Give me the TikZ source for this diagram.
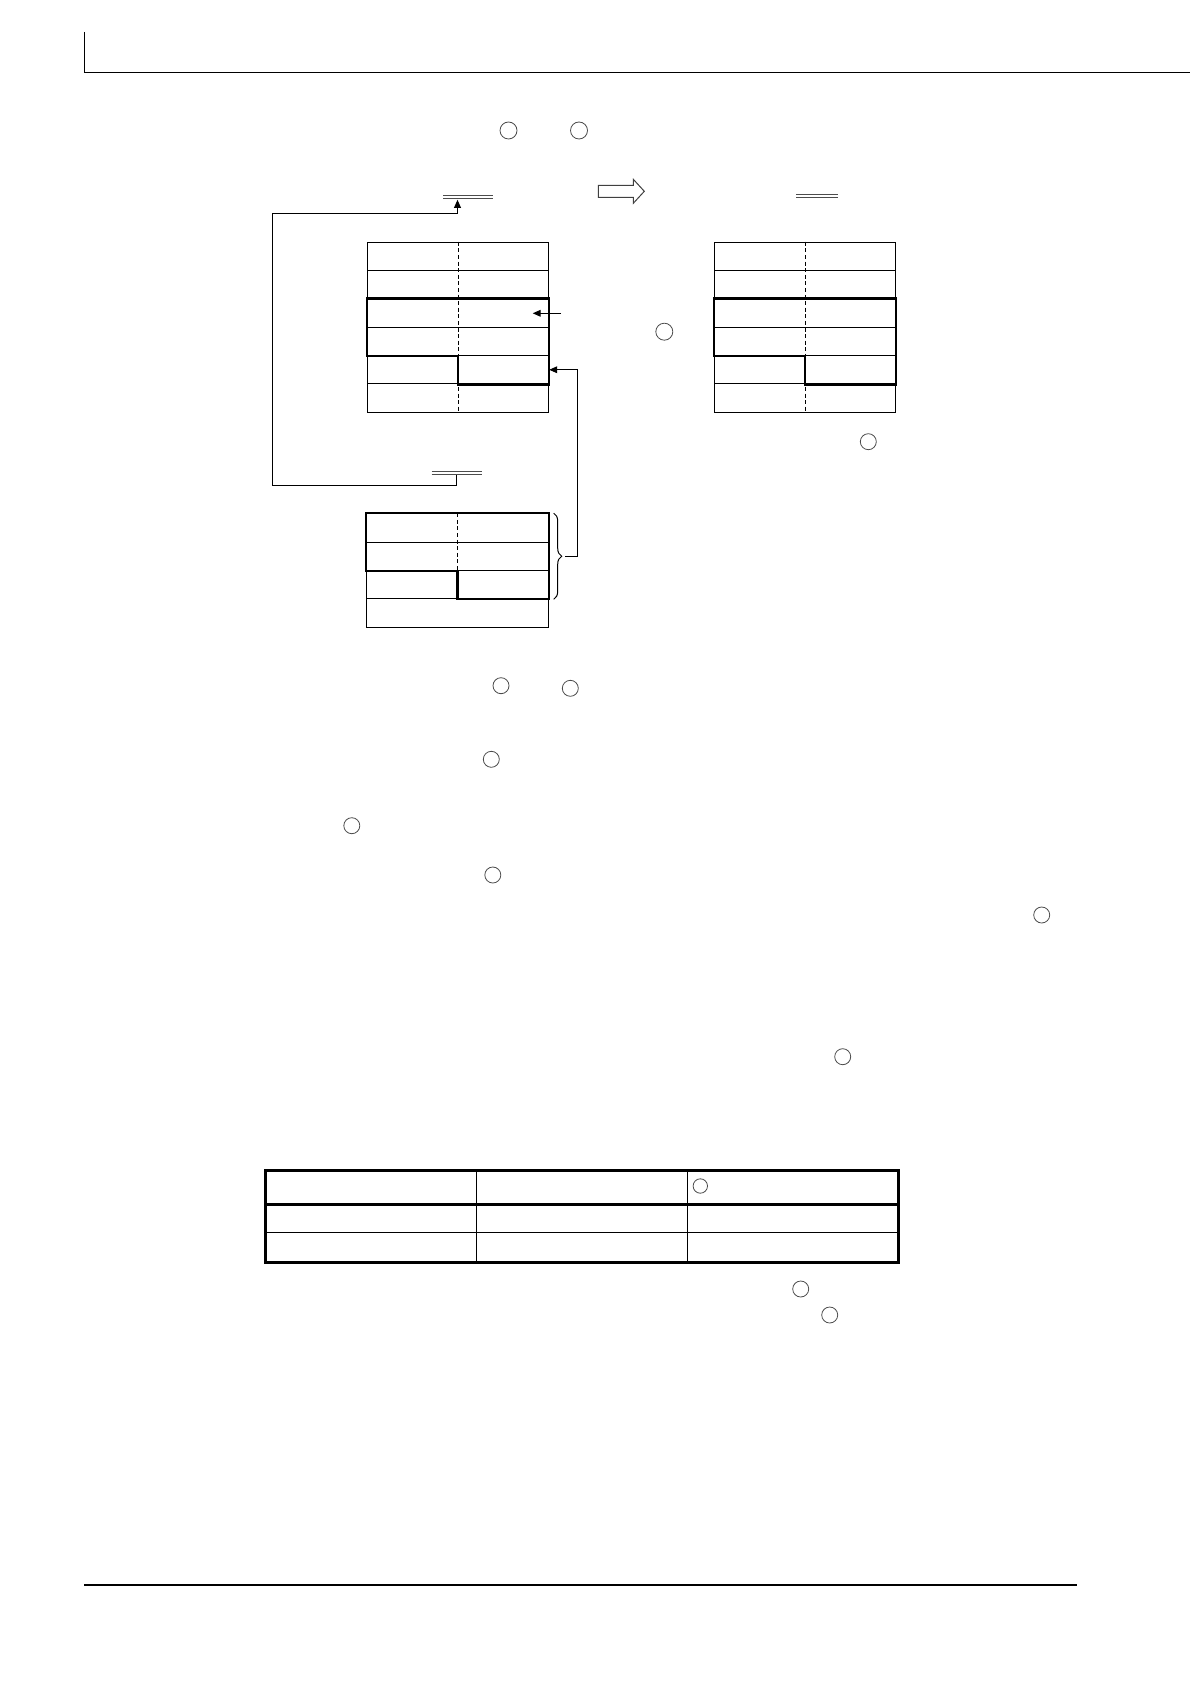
\documentclass[tikz,border=0pt]{standalone}
\usepackage{tikz}
\usetikzlibrary{arrows.meta, decorations.pathreplacing}

\tikzstyle{cell} = [rectangle, minimum width=90.7pt, minimum height=14.17pt, inner sep=0pt, draw=black, line width=0.5pt]
\tikzstyle{tcell} = [rectangle, minimum width=105.25pt, inner sep=0pt, draw=black, line width=0.5pt]
\tikzstyle{ring} = [circle, minimum size=8.5pt, inner sep=0pt, draw=black!70, line width=0.4pt]
\tikzstyle{smallring} = [ring, minimum size=7.2pt]
\tikzstyle{uline} = [rectangle, minimum width=24.6pt, minimum height=1.1pt, inner sep=0pt]
\tikzstyle{dline} = [draw=black!70, line width=0.6pt]
\tikzstyle{frame} = [draw=black, line width=1.1pt, line join=miter]
\tikzstyle{tframe} = [draw=black, line width=1.4pt, line join=miter]
\tikzstyle{divider} = [draw=black, line width=0.5pt, dash pattern=on 2pt off 1.3pt]
\tikzstyle{hollow} = [draw=black!75, line width=0.5pt, fill=white]
\tikzstyle{arrow} = [line width=0.5pt, -{Triangle[length=4pt, width=3.4pt]}]
\tikzstyle{line} = [line width=0.5pt]
\tikzstyle{brace} = [line width=0.5pt, decorate, decoration={brace, amplitude=4pt, raise=2.5pt}]
\tikzstyle{rule} = [draw=black, line width=0.5pt]

\begin{document}
\begin{tikzpicture}[x=0.5pt, y=-0.5pt, node distance=14.17pt]
\useasboundingbox (0,0) rectangle (1190,1684);

% page head and foot
\draw [rule] (84,32) -- (84,73) -- (1190,73);
\draw [rule, line width=1.2pt] (84,1585) -- (1077,1585);

\node (c1) [ring] at (508.5,130.5) {};
\node (c2) [ring] at (579,130.5) {};

% before
\node (uA) [uline] at (468,196.7) {};
\draw [dline] (uA.north west) -- (uA.north east) (uA.south west) -- (uA.south east);

\node (A1) [cell] at (458,256.4) {};
\node (A2) [cell, below of=A1] {};
\node (A3) [cell, below of=A2] {};
\node (A4) [cell, below of=A3] {};
\node (A5) [cell, below of=A4] {};
\node (A6) [cell, below of=A5] {};
\draw [divider] (A1.north) -- (A6.south);
\draw [frame] (A3.north west) -- (A3.north east) -- (A5.south east) -- (A5.south) -- (A4.south) -- (A4.south west) -- cycle;

\coordinate (srcA) at (561,313.3);
\coordinate (tipA) at (532.7,313.3);
\draw [arrow] (srcA) -- (tipA);

\draw [hollow] (598.3,185.3) -- (633.3,185.3) -- (633.3,179.3) -- (644.3,191.3) -- (633.3,203.3) -- (633.3,197.3) -- (598.3,197.3) -- cycle;

\node (c3) [ring] at (664.3,331.7) {};

% after
\node (uC) [uline, minimum width=20.3pt] at (817,196.2) {};
\draw [dline] (uC.north west) -- (uC.north east) (uC.south west) -- (uC.south east);

\node (C1) [cell] at (805,256.4) {};
\node (C2) [cell, below of=C1] {};
\node (C3) [cell, below of=C2] {};
\node (C4) [cell, below of=C3] {};
\node (C5) [cell, below of=C4] {};
\node (C6) [cell, below of=C5] {};
\draw [divider] (C1.north) -- (C6.south);
\draw [frame] (C3.north west) -- (C3.north east) -- (C5.south east) -- (C5.south) -- (C4.south) -- (C4.south west) -- cycle;

\node (c4) [ring, minimum size=8pt] at (868.3,441.7) {};

% source block
\node (uB) [uline] at (456.5,473.3) {};
\draw [dline] (uB.north west) -- (uB.north east) (uB.south west) -- (uB.south east);

\node (B1) [cell, minimum height=14.2pt] at (457.5,527.9) {};
\node (B2) [cell, minimum height=14.2pt, below of=B1] {};
\node (B3) [cell, minimum height=14.2pt, below of=B2] {};
\node (B4) [cell, minimum height=14.2pt, below of=B3] {};
\draw [divider] (B1.north) -- (B3.south);
\draw [frame] (B1.north west) -- (B1.north east) -- (B3.south east) -- (B3.south) -- (B2.south) -- (B2.south west) -- cycle;

\draw [brace] (B1.north east) -- (B3.south east);
\coordinate (brc) at (565,556.3);
\draw [arrow] (brc) -- + (12.3,0) |- (A5.east);

\coordinate (lpB) at (272.3,485);
\coordinate (lpT) at (272.3,213.3);
\coordinate (tipU) at (457.5,199.8);
\draw [arrow] (uB.south) |- (lpB) -- (lpT) -| (tipU);

% markers in the text
\node (c5) [ring, minimum size=8pt] at (501,685.7) {};
\node (c6) [ring, minimum size=8pt] at (570.3,688.3) {};
\node (c7) [ring, minimum size=8pt] at (491.3,759.3) {};
\node (c8) [ring, minimum size=8pt] at (351.8,825.7) {};
\node (c9) [ring, minimum size=8pt] at (492.8,875) {};
\node (c10) [ring, minimum size=8pt] at (1041.7,915) {};
\node (c11) [ring, minimum size=8pt] at (842.7,1056.7) {};

% table
\node (H1) [tcell, minimum height=16.65pt] at (371.55,1187.35) {};
\node (H2) [tcell, minimum height=16.65pt] at (582.05,1187.35) {};
\node (H3) [tcell, minimum height=16.65pt] at (792.55,1187.35) {};
\node (R1) [tcell, minimum height=14pt] at (371.55,1218) {};
\node (R2) [tcell, minimum height=14pt] at (582.05,1218) {};
\node (R3) [tcell, minimum height=14pt] at (792.55,1218) {};
\node (S1) [tcell, minimum height=15.15pt] at (371.55,1247.15) {};
\node (S2) [tcell, minimum height=15.15pt] at (582.05,1247.15) {};
\node (S3) [tcell, minimum height=15.15pt] at (792.55,1247.15) {};
\draw [tframe] (H1.north west) rectangle (S3.south east);
\draw [tframe] (H1.south west) -- (H3.south east);

\node (c12) [smallring] at (700.3,1186) {};
\node (c13) [ring, minimum size=8pt] at (800.7,1289) {};
\node (c14) [ring, minimum size=8pt] at (829.7,1315) {};

\end{tikzpicture}
\end{document}
